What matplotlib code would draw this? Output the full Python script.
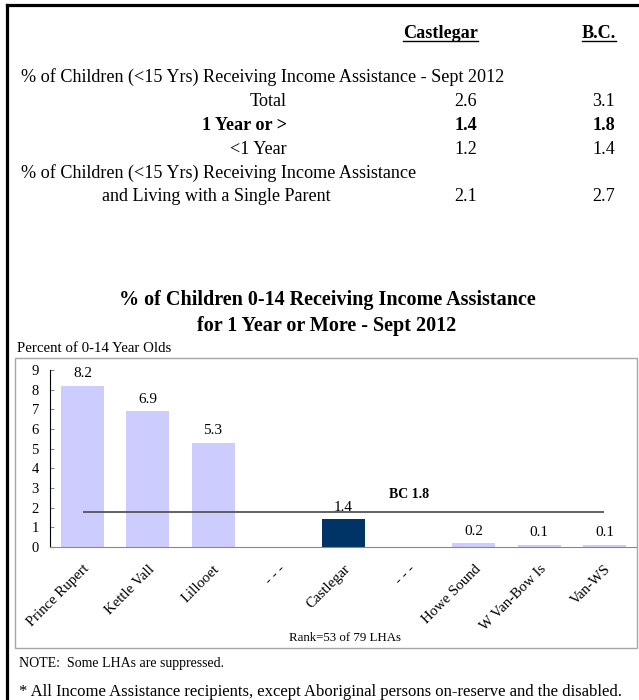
import matplotlib
matplotlib.use("Agg")
import matplotlib.pyplot as plt
from matplotlib.lines import Line2D
from matplotlib.patches import Rectangle

plt.rcParams['font.family'] = ['Liberation Serif', 'DejaVu Serif']

# table data
col_heads = ["Castlegar", "B.C."]
row_labels = ["Total", "1 Year or >", "<1 Year", "and Living with a Single Parent"]
castlegar_vals = ["2.6", "1.4", "1.2", "2.1"]
bc_vals = ["3.1", "1.8", "1.4", "2.7"]

# chart data
lhas = ["Prince Rupert", "Kettle Vall", "Lillooet", "- - -", "Castlegar",
        "- - -", "Howe Sound", "W Van-Bow Is", "Van-WS"]
pct = [8.2, 6.9, 5.3, None, 1.4, None, 0.2, 0.1, 0.1]
bc_avg = 1.8
highlight = "Castlegar"

W, H = 639, 700
fig = plt.figure(figsize=(W / 100, H / 100), dpi=100)


def fx(x):
    return x / W


def fy(y):
    return 1 - y / H


def put(x, y, s, **kw):
    return fig.text(fx(x), fy(y), s, va='center', **kw)


# outer black border (top and left only)
fig.add_artist(Line2D([fx(7), fx(639)], [fy(5), fy(5)], color='black', lw=2.3))
fig.add_artist(Line2D([fx(7), fx(7)], [fy(5), fy(700)], color='black', lw=2.3))

# table
fs = 13.1
heads = [put(478, 33, col_heads[0], ha='right', fontsize=fs, weight='bold'),
         put(616, 33, col_heads[1], ha='right', fontsize=fs, weight='bold')]
put(21, 77, "% of Children (<15 Yrs) Receiving Income Assistance - Sept 2012", ha='left', fontsize=fs)
put(287, 101, row_labels[0], ha='right', fontsize=fs)
put(287, 125, row_labels[1], ha='right', fontsize=fs, weight='bold')
put(287, 150, row_labels[2], ha='right', fontsize=fs)
put(21, 173, "% of Children (<15 Yrs) Receiving Income Assistance", ha='left', fontsize=fs)
put(331, 197, row_labels[3], ha='right', fontsize=fs)
for i, y in enumerate([101, 125, 150, 197]):
    w = 'bold' if i == 1 else 'normal'
    put(477, y, castlegar_vals[i], ha='right', fontsize=fs, weight=w)
    put(615, y, bc_vals[i], ha='right', fontsize=fs, weight=w)

fig.canvas.draw()
r = fig.canvas.get_renderer()
for t in heads:
    bb = t.get_window_extent(r)
    fig.add_artist(Line2D([bb.x0 / W, bb.x1 / W], [fy(41), fy(41)], color='black', lw=1))

# chart title
put(327, 300, "% of Children 0-14 Receiving Income Assistance", ha='center', fontsize=14.5, weight='bold')
put(327, 326, "for 1 Year or More - Sept 2012", ha='center', fontsize=14.5, weight='bold')
put(17, 349, "Percent of 0-14 Year Olds", ha='left', fontsize=10.7)

# gray frame
fig.add_artist(Rectangle((fx(15), fy(648)), fx(637) - fx(15), fy(358) - fy(648),
                         fill=False, edgecolor='#a6a6a6', lw=1))

ax = fig.add_axes([fx(50), fy(547), fx(637) - fx(50), fy(370) - fy(547)])
xs = list(range(len(lhas)))
for x, name, v in zip(xs, lhas, pct):
    if v is None:
        continue
    c = '#003366' if name == highlight else '#ccccff'
    ax.bar(x, v, width=0.66, color=c)
    ax.annotate(f"{v:.1f}", (x, v), xytext=(0, 4), textcoords='offset points',
                ha='center', va='bottom', fontsize=11)

ax.hlines(bc_avg, 0, len(lhas) - 1, color='#555555', lw=1.3)
ax.text(5.0, bc_avg + 0.85, f"BC {bc_avg}", ha='center', va='center', fontsize=10, weight='bold')

ax.set_xlim(-0.5, len(lhas) - 0.5)
ax.set_ylim(0, 9)
ax.set_yticks(range(10))
ax.tick_params(axis='y', direction='in', length=3, color='#888888', labelsize=10.5, pad=8)
ax.set_xticks(xs)
ax.set_xticklabels(lhas, rotation=45, ha='right', va='top', rotation_mode='anchor', fontsize=10.6)
ax.tick_params(axis='x', length=0, pad=11)
for s in ['top', 'right']:
    ax.spines[s].set_visible(False)
ax.spines['left'].set_color('black')
ax.spines['bottom'].set_color('#888888')
ax.patch.set_alpha(0)

put(345, 638, "Rank=53 of 79 LHAs", ha='center', fontsize=9.3)

put(19, 663, "NOTE:  Some LHAs are suppressed.", ha='left', fontsize=10)
put(19, 692, "* All Income Assistance recipients, except Aboriginal persons on-reserve and the disabled.",
    ha='left', fontsize=12)

fig.savefig("out.png", dpi=100)
